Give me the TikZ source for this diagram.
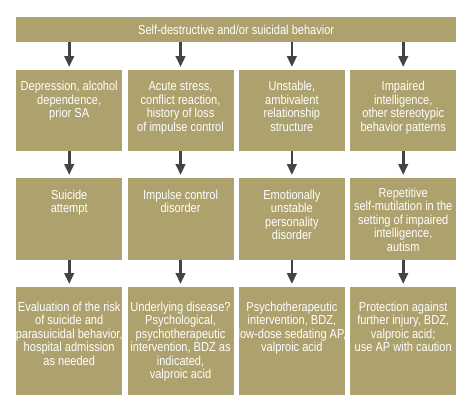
\documentclass[tikz,border=0pt]{standalone}
\usepackage{fontspec}
\setmainfont{Liberation Sans}[FakeStretch=0.85]
\usetikzlibrary{arrows.meta}
\definecolor{khaki}{RGB}{173,162,110}
\definecolor{arrowgray}{RGB}{68,68,68}
\newcommand\cellbox[4]{\makebox[#1pt]{\parbox[c][#2pt][t]{130pt}{\centering\rule{0pt}{#3pt}#4\par}}}
\tikzset{
  cell/.style={fill=khaki, inner sep=0pt, text=white, anchor=north west,
    font=\fontsize{13}{13.5}\selectfont},
  arr/.style={draw=arrowgray, line width=2.6pt,
    -{Triangle[length=11pt,width=9.5pt]}, shorten >=3pt}
}
\begin{document}
\begin{tikzpicture}[x=1pt,y=-1pt]
\useasboundingbox (0,0) rectangle (473,412);
% title
\node[cell] (top) at (16,17) {\parbox[c][25pt][c]{440pt}{\centering Self-destructive and/or suicidal behavior}};
% row 1
\node[cell] (a1) at (16,70) {\cellbox{106}{81}{20.5}{Depression, alcohol\\dependence,\\prior SA}};
\node[cell] (a2) at (127.33,70) {\cellbox{106}{81}{20.5}{Acute stress,\\conflict reaction,\\history of loss\\of impulse control}};
\node[cell] (a3) at (238.67,70) {\cellbox{106}{81}{20.5}{Unstable,\\ambivalent\\relationship\\structure}};
\node[cell] (a4) at (350,70) {\cellbox{106}{81}{20.5}{Impaired\\intelligence,\\other stereotypic\\behavior patterns}};
% row 2
\node[cell] (b1) at (16,178) {\cellbox{106}{82}{21}{Suicide\\attempt}};
\node[cell] (b2) at (127.33,178) {\cellbox{106}{82}{21}{Impulse control\\disorder}};
\node[cell] (b3) at (238.67,178) {\cellbox{106}{82}{21}{Emotionally\\unstable\\personality\\disorder}};
\node[cell] (b4) at (350,178) {\cellbox{106}{82}{19}{Repetitive\\self-mutilation in the\\setting of impaired\\intelligence,\\autism}};
% row 3
\node[cell] (c1) at (16,287) {\cellbox{106}{108}{24}{Evaluation of the risk\\of suicide and\\parasuicidal behavior,\\hospital admission\\as needed}};
\node[cell] (c2) at (127.33,287) {\cellbox{106}{108}{24}{Underlying disease?\\Psychological,\\psychotherapeutic\\intervention, BDZ as\\indicated,\\valproic acid}};
\node[cell] (c3) at (238.67,287) {\cellbox{106}{108}{24}{Psychotherapeutic\\intervention, BDZ,\\low-dose sedating AP,\\valproic acid}};
\node[cell] (c4) at (350,287) {\cellbox{106}{108}{24}{Protection against\\further injury, BDZ,\\valproic acid;\\use AP with caution}};
% arrows
\foreach \c in {1,2,3,4}{
  \draw[arr] (top.south -| a\c.north) -- (a\c.north);
  \draw[arr] (a\c.south) -- (b\c.north);
  \draw[arr] (b\c.south) -- (c\c.north);
}
\end{tikzpicture}
\end{document}
